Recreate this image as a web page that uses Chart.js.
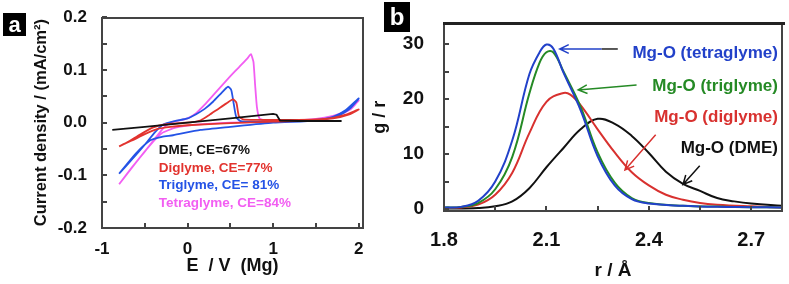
<!DOCTYPE html>
<html>
<head>
<meta charset="utf-8">
<script src="https://cdn.jsdelivr.net/npm/chart.js@4.4.1/dist/chart.umd.min.js"></script>
<style>
  html, body { margin: 0; padding: 0; background: #fff; }
  #wrap { position: relative; width: 789px; height: 284px; overflow: hidden; }
  canvas { position: absolute; top: 0; }
  #cvA { left: 0; }
  #cvB { left: 360px; }
</style>
</head>
<body>
<div id="wrap">
  <canvas id="cvA" width="390" height="284"></canvas>
  <canvas id="cvB" width="429" height="284"></canvas>
</div>
<script>
// ---- panel a : CV curves (E / V vs Mg, j / mA cm-2) ----
const xTicksA = [-1, 0, 1, 2];
const yTicksA = [-0.2, -0.1, 0.0, 0.1, 0.2];

const dmeE = [-0.88, -0.5, 0, 0.5, 1.0, 1.04, 1.08, 1.3, 1.6, 1.8];
const dmeJ = [-0.014, -0.008, 0.0, 0.008, 0.0165, 0.015, 0.004, 0.003, 0.003, 0.003];

const digE = [-0.80, -0.70, -0.55, -0.40, -0.25, -0.10, 0.05, 0.15, 0.25, 0.35, 0.45, 0.53, 0.57, 0.60, 0.65, 0.80, 1.20, 1.50, 1.70, 1.85, 2.00,
              1.90, 1.70, 1.40, 1.00, 0.50, 0.00, -0.20, -0.35, -0.50, -0.65, -0.80];
const digJ = [-0.045, -0.037, -0.022, -0.009, -0.003, -0.001, 0.001, 0.004, 0.014, 0.025, 0.036, 0.044, 0.038, 0.012, 0.006, 0.005, 0.005, 0.006, 0.009, 0.015, 0.025,
              0.016, 0.008, 0.004, 0.002, -0.001, -0.005, -0.008, -0.012, -0.022, -0.034, -0.045];

const triE = [-0.80, -0.65, -0.50, -0.38, -0.28, -0.15, 0.0, 0.1, 0.2, 0.3, 0.4, 0.47, 0.51, 0.54, 0.57, 0.62, 0.8, 1.2, 1.5, 1.7, 1.85, 2.0,
              1.9, 1.75, 1.5, 1.0, 0.5, 0.15, -0.17, -0.3, -0.44, -0.6, -0.80];
const triJ = [-0.097, -0.07, -0.042, -0.018, -0.003, 0.003, 0.008, 0.016, 0.026, 0.040, 0.057, 0.068, 0.062, 0.035, 0.010, 0.003, 0.002, 0.003, 0.005, 0.011, 0.024, 0.046,
              0.027, 0.012, 0.004, 0.0, -0.008, -0.014, -0.024, -0.027, -0.034, -0.058, -0.097];

const tetE = [-0.80, -0.65, -0.50, -0.38, -0.28, -0.2, -0.1, 0.0, 0.1, 0.2, 0.3, 0.4, 0.5, 0.6, 0.7, 0.74, 0.77, 0.79, 0.81, 0.84, 0.9, 1.2, 1.5, 1.7, 1.85, 2.0,
              1.9, 1.7, 1.4, 1.0, 0.5, 0.1, -0.15, -0.3, -0.45, -0.6, -0.80];
const tetJ = [-0.117, -0.085, -0.055, -0.030, -0.010, 0.0, 0.004, 0.008, 0.018, 0.034, 0.052, 0.070, 0.088, 0.105, 0.122, 0.130, 0.115, 0.07, 0.03, 0.008, 0.004, 0.004, 0.007, 0.013, 0.022, 0.042,
              0.025, 0.010, 0.004, 0.002, 0.0, -0.004, -0.010, -0.020, -0.045, -0.075, -0.117];

const legendA = ['DME, CE=67%', 'Diglyme, CE=77%', 'Triglyme, CE= 81%', 'Tetraglyme, CE=84%'];
const colorsA = ['#111111', '#e2332e', '#2453e6', '#f25ef2'];

// ---- panel b : Mg-O radial distribution g(r) ----
const xTicksB = [1.8, 2.1, 2.4, 2.7];
const yTicksB = [0, 10, 20, 30];

const tetR = [1.80, 1.85, 1.90, 1.95, 2.00, 2.05, 2.08, 2.10, 2.12, 2.15, 2.20, 2.25, 2.30, 2.35, 2.40, 2.50, 2.60, 2.70, 2.79];
const tetG = [0.3, 0.4, 1.5, 5.0, 12.5, 24.5, 28.5, 29.9, 29.2, 24.8, 18.0, 9.6, 4.3, 1.8, 1.0, 0.6, 0.4, 0.35, 0.3];

const triR = [1.80, 1.85, 1.90, 1.95, 2.00, 2.05, 2.08, 2.10, 2.12, 2.15, 2.20, 2.25, 2.30, 2.35, 2.40, 2.50, 2.60, 2.70, 2.79];
const triG = [0.3, 0.4, 1.1, 3.6, 9.5, 21.0, 26.6, 28.5, 28.5, 25.0, 18.6, 10.3, 4.8, 2.0, 1.1, 0.6, 0.45, 0.35, 0.3];

const digR = [1.80, 1.85, 1.90, 1.95, 2.00, 2.05, 2.10, 2.15, 2.17, 2.20, 2.25, 2.30, 2.35, 2.40, 2.45, 2.50, 2.55, 2.60, 2.70, 2.79];
const digG = [0.2, 0.3, 0.8, 2.6, 6.6, 13.8, 19.5, 21.1, 20.8, 18.9, 14.5, 10.3, 6.7, 4.3, 2.6, 1.7, 1.1, 0.8, 0.5, 0.3];

const dmeR = [1.80, 1.90, 1.95, 2.00, 2.05, 2.10, 2.15, 2.20, 2.25, 2.30, 2.35, 2.40, 2.45, 2.50, 2.55, 2.60, 2.65, 2.70, 2.79];
const dmeG = [0.1, 0.2, 0.5, 1.4, 3.8, 7.6, 11.1, 14.5, 16.4, 15.5, 13.3, 10.2, 6.8, 4.6, 3.3, 2.0, 1.4, 1.0, 0.6];

const labelsB = ['Mg-O (tetraglyme)', 'Mg-O (triglyme)', 'Mg-O (diglyme)', 'Mg-O (DME)'];
const labelYB = [28.4, 22.3, 16.6, 11.1];
const colorsB = ['#2241c9', '#258a25', '#d8312f', '#111111'];
// arrows: [tailR, tailG, headR, headG]
const arrowsB = [[2.262, 29.1, 2.139, 29.1], [2.364, 22.55, 2.193, 21.66], [2.42, 13.5, 2.33, 7.1], [2.549, 7.86, 2.50, 4.46]];

const FONT = '"Liberation Sans", Arial, sans-serif';

function pts(xs, ys) { return xs.map((x, i) => ({ x: x, y: ys[i] })); }

function line(data, color, width, tension) {
  return { data: data, borderColor: color, borderWidth: width, pointRadius: 0, showLine: true, fill: false, tension: tension };
}

// frame + inward ticks + panel letter (drawn with fillRect)
function makeFrame(cfg) {
  return {
    id: 'frame' + cfg.letter,
    afterDraw(chart) {
      const ctx = chart.ctx;
      const a = chart.chartArea;
      const x = chart.scales.x, y = chart.scales.y;
      const L = Math.round(a.left), R = Math.round(a.right), T = Math.round(a.top), B = Math.round(a.bottom);
      ctx.save();
      ctx.fillStyle = '#444';
      ctx.fillRect(L - 1, T, 2, B - T + 1);
      ctx.fillRect(R - 1, T, 2, B - T + 1);
      ctx.fillRect(L - 1, B - 1, R - L + 2, 2);
      if (cfg.thickTop) {
        ctx.fillStyle = '#222';
        ctx.fillRect(L - 1, T - 1, R - L + 4, 3);
        ctx.fillStyle = '#444';
      } else {
        ctx.fillRect(L - 1, T, R - L + 2, 2);
      }
      for (let v = cfg.xStart; v <= x.max + 1e-9; v += cfg.xStep) {
        ctx.fillRect(Math.round(x.getPixelForValue(v)) - 1, B - 5, 2, 5);
      }
      for (let v = cfg.yStart; v <= y.max + 1e-9; v += cfg.yStep) {
        ctx.fillRect(L, Math.round(y.getPixelForValue(v)) - 1, 5, 2);
      }
      // panel letter
      ctx.fillStyle = '#000';
      ctx.fillRect(cfg.box[0], cfg.box[1], cfg.box[2], cfg.box[3]);
      ctx.fillStyle = '#fff';
      ctx.font = 'bold ' + cfg.letterSize + 'px ' + FONT;
      ctx.textAlign = 'center';
      ctx.textBaseline = 'middle';
      ctx.fillText(cfg.letter, cfg.box[0] + cfg.box[2] / 2, cfg.box[1] + cfg.box[3] / 2 + 1);
      ctx.restore();
    }
  };
}

const legendPlugA = {
  id: 'legendA',
  afterDraw(chart) {
    const ctx = chart.ctx, x = chart.scales.x, y = chart.scales.y;
    ctx.save();
    ctx.font = 'bold 13.5px ' + FONT;
    ctx.textBaseline = 'middle';
    ctx.textAlign = 'left';
    const x0 = x.getPixelForValue(-0.337);
    const y0 = y.getPixelForValue(-0.0523);
    legendA.forEach((t, i) => {
      ctx.fillStyle = colorsA[i];
      ctx.fillText(t, x0, y0 + i * 17.7);
    });
    ctx.restore();
  }
};

const labelsPlugB = {
  id: 'labelsB',
  afterDraw(chart) {
    const ctx = chart.ctx, x = chart.scales.x, y = chart.scales.y;
    ctx.save();
    ctx.font = 'bold 17px ' + FONT;
    ctx.textBaseline = 'middle';
    ctx.textAlign = 'right';
    labelsB.forEach((t, i) => {
      ctx.fillStyle = colorsB[i];
      ctx.fillText(t, x.getPixelForValue(2.778), y.getPixelForValue(labelYB[i]));
    });
    ctx.lineWidth = 1.5;
    arrowsB.forEach((ar, i) => {
      const tx = x.getPixelForValue(ar[0]), ty = y.getPixelForValue(ar[1]);
      const hx = x.getPixelForValue(ar[2]), hy = y.getPixelForValue(ar[3]);
      ctx.strokeStyle = colorsB[i];
      ctx.beginPath();
      ctx.moveTo(tx, ty); ctx.lineTo(hx, hy);
      const ang = Math.atan2(ty - hy, tx - hx);
      ctx.moveTo(hx + 10 * Math.cos(ang - 0.45), hy + 10 * Math.sin(ang - 0.45));
      ctx.lineTo(hx, hy);
      ctx.lineTo(hx + 10 * Math.cos(ang + 0.45), hy + 10 * Math.sin(ang + 0.45));
      ctx.stroke();
    });
    // dark tail on the tetraglyme arrow
    ctx.strokeStyle = '#222';
    ctx.beginPath();
    ctx.moveTo(x.getPixelForValue(2.262), y.getPixelForValue(29.1));
    ctx.lineTo(x.getPixelForValue(2.309), y.getPixelForValue(29.1));
    ctx.stroke();
    ctx.restore();
  }
};

const tickFont = (s) => ({ size: s, weight: 'bold', family: FONT });

new Chart(document.getElementById('cvA').getContext('2d'), {
  type: 'scatter',
  data: {
    datasets: [
      line(pts(dmeE, dmeJ), colorsA[0], 1.8, 0),
      line(pts(digE, digJ), colorsA[1], 1.8, 0.2),
      line(pts(triE, triJ), colorsA[2], 1.8, 0.2),
      line(pts(tetE, tetJ), colorsA[3], 1.8, 0.15)
    ]
  },
  options: {
    responsive: false,
    animation: false,
    layout: { padding: { left: 0, right: 27, top: 13, bottom: 0 } },
    plugins: { legend: { display: false }, tooltip: { enabled: false } },
    scales: {
      x: {
        type: 'linear', min: -1, max: 2.05,
        afterFit: s => { s.height = 56; },
        afterBuildTicks: s => { s.ticks = xTicksA.map(v => ({ value: v })); },
        grid: { display: false },
        border: { display: false },
        ticks: { padding: 3, color: '#111', font: tickFont(17), maxRotation: 0, callback: v => String(v) },
        title: { display: true, text: 'E  / V  (Mg)', color: '#111', font: tickFont(18), padding: { top: 0, bottom: 7 } }
      },
      y: {
        min: -0.2, max: 0.2,
        afterFit: s => { s.width = 102; },
        afterBuildTicks: s => { s.ticks = yTicksA.map(v => ({ value: v })); },
        grid: { display: false },
        border: { display: false },
        ticks: { padding: 7, color: '#111', font: tickFont(17), callback: v => v.toFixed(1) },
        title: { display: true, text: 'Current density / (mA/cm²)', color: '#111', font: tickFont(16.5), padding: { top: 32, bottom: 0 } }
      }
    }
  },
  plugins: [makeFrame({ thickTop: false, xStart: -1, xStep: 0.5, yStart: -0.2, yStep: 0.05, box: [3, 13, 23, 23], letter: 'a', letterSize: 22 }), legendPlugA]
});

new Chart(document.getElementById('cvB').getContext('2d'), {
  type: 'scatter',
  data: {
    datasets: [
      line(pts(tetR, tetG), colorsB[0], 2, 0.4),
      line(pts(triR, triG), colorsB[1], 2, 0.4),
      line(pts(digR, digG), colorsB[2], 2, 0.4),
      line(pts(dmeR, dmeG), colorsB[3], 2, 0.4)
    ]
  },
  options: {
    responsive: false,
    animation: false,
    layout: { padding: { left: 0, right: 7, top: 20, bottom: 0 } },
    plugins: { legend: { display: false }, tooltip: { enabled: false } },
    scales: {
      x: {
        type: 'linear', min: 1.8, max: 2.79,
        afterFit: s => { s.height = 73; },
        afterBuildTicks: s => { s.ticks = xTicksB.map(v => ({ value: v })); },
        grid: { display: false },
        border: { display: false },
        ticks: { padding: 9, color: '#111', font: tickFont(20), maxRotation: 0, callback: v => v.toFixed(1) },
        title: { display: true, text: 'r / Å', color: '#111', font: tickFont(19), padding: { top: 0, bottom: 2 } }
      },
      y: {
        min: -0.35, max: 33.75,
        afterFit: s => { s.width = 84; },
        afterBuildTicks: s => { s.ticks = yTicksB.map(v => ({ value: v })); },
        grid: { display: false },
        border: { display: false },
        ticks: { padding: 12, color: '#111', font: tickFont(19), callback: v => String(v) },
        title: { display: true, text: 'g / r', color: '#111', font: tickFont(18), padding: { top: 9, bottom: 0 } }
      }
    }
  },
  plugins: [makeFrame({ thickTop: true, xStart: 1.8, xStep: 0.15, yStart: 0, yStep: 5, box: [24, 2, 26, 30], letter: 'b', letterSize: 24 }), labelsPlugB]
});
</script>
</body>
</html>
